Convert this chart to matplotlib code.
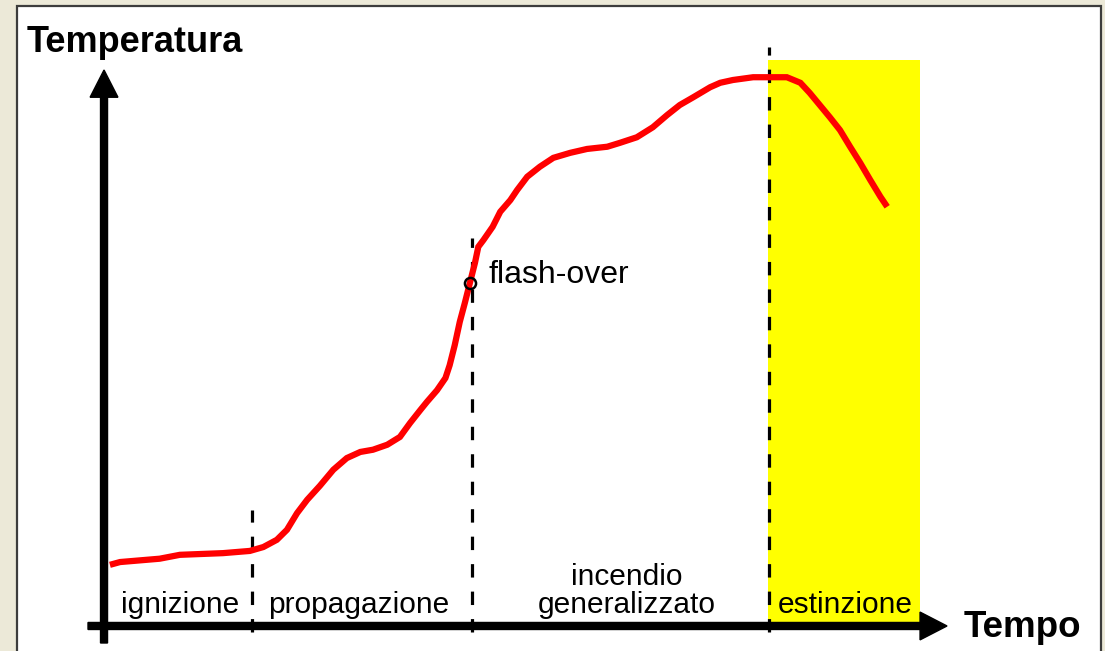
import matplotlib.pyplot as plt
from matplotlib.patches import Rectangle

# curve of the fire: time and temperature in arbitrary units (0-100)
time = [0.7, 1.9, 6.6, 9.0, 14.1, 17.3, 18.9, 20.5, 21.7, 22.9, 24.1, 25.6, 27.2, 28.8,
        30.4, 31.9, 33.6, 35.1, 36.3, 37.5, 38.3, 39.5, 40.5, 41.0, 41.6, 42.2, 42.8,
        43.4, 44.0, 44.4, 45.0, 46.1, 47.0, 48.2, 49.0, 50.2, 51.7, 53.3, 55.3, 57.3,
        59.7, 61.2, 63.2, 65.1, 66.8, 68.3, 69.9, 71.9, 73.1, 74.6, 77.0, 79.0, 81.0,
        82.6, 83.7, 84.9, 86.1, 87.3, 88.5, 89.7, 90.9, 92.1, 92.9]
temperature = [11.0, 11.5, 12.1, 12.8, 13.1, 13.5, 14.2, 15.5, 17.3, 20.3, 22.7, 25.2,
               28.1, 30.2, 31.3, 31.7, 32.6, 34.0, 36.5, 38.8, 40.3, 42.4, 44.6, 46.9,
               50.5, 54.7, 58.1, 61.7, 65.3, 68.2, 69.4, 71.8, 74.5, 76.6, 78.4, 80.8,
               82.6, 84.2, 85.1, 85.8, 86.2, 86.9, 87.9, 89.7, 91.9, 93.7, 95.1, 96.9,
               97.7, 98.2, 98.7, 98.7, 98.7, 97.7, 95.9, 93.7, 91.5, 89.2, 86.2, 83.3,
               80.2, 77.2, 75.4]

# phases
phase_names = ["ignizione", "propagazione", "incendio\ngeneralizzato", "estinzione"]
phase_label_x = [9.0, 30.2, 62.0, 87.9]
boundaries = [17.6, 43.7, 78.9]
boundary_tops = [20.9, 69.8, 104.1]
extinction_end = 96.8
flashover = (43.4, 61.7)

fig = plt.figure(figsize=(11.05, 6.51), dpi=100, facecolor="#ECE9D8")

ax = fig.add_axes([0, 0, 1, 1])
ax.set_facecolor("none")
ax.set_xlim(-12.34, 118.74)
ax.set_ylim(-4.50, 112.59)
ax.axis("off")

# white panel with dark frame
ax.add_patch(Rectangle((17 / 1105, -0.05), (1101 - 17) / 1105, (651 - 6) / 651 + 0.05,
                       transform=fig.transFigure, facecolor="white", edgecolor="#3c3c3c",
                       linewidth=1.6, zorder=0, clip_on=False))

# extinction zone
ax.add_patch(Rectangle((boundaries[2] - 0.1, 0.5), extinction_end - boundaries[2] + 0.1, 101.3,
                       facecolor="#FFFF00", edgecolor="none", zorder=1))

# dashed phase boundaries
for bx, top in zip(boundaries, boundary_tops):
    ax.plot([bx, bx], [-1.1, top], color="black", lw=2.3,
            linestyle=(0, (4.2, 4.4)), solid_capstyle="butt", zorder=2)

# axes arrows
ax.arrow(0, -3.06, 0, 103.06, width=0.83, head_width=3.3, head_length=4.9,
         length_includes_head=True, color="black", zorder=4)
ax.arrow(-1.9, 0, 101.9, 0, width=1.26, head_width=5.0, head_length=3.2,
         length_includes_head=True, color="black", zorder=4)

# temperature curve
ax.plot(time, temperature, color="#FF0000", lw=4.5, solid_capstyle="butt",
        solid_joinstyle="miter", zorder=3)
ax.plot(*flashover, marker="o", markersize=8, markerfacecolor="none",
        markeredgecolor="black", markeredgewidth=1.8, zorder=5)
ax.text(45.55, 61.7, "flash-over", fontsize=23, family="Liberation Sans",
        ha="left", va="baseline", zorder=6)

# labels
ax.text(-9.13, 103.2, "Temperatura", fontsize=26, fontweight="bold",
        family="Liberation Sans", ha="left", va="baseline")
ax.text(102.0, -1.98, "Tempo", fontsize=26.5, fontweight="bold",
        family="Liberation Sans", ha="left", va="baseline")

for name, lx in zip(phase_names, phase_label_x):
    ax.text(lx, 2.4, name, fontsize=21.5, family="Liberation Sans", ha="center",
            va="baseline", linespacing=1.0, zorder=6)

fig.savefig("out.png", dpi=100, facecolor=fig.get_facecolor())
